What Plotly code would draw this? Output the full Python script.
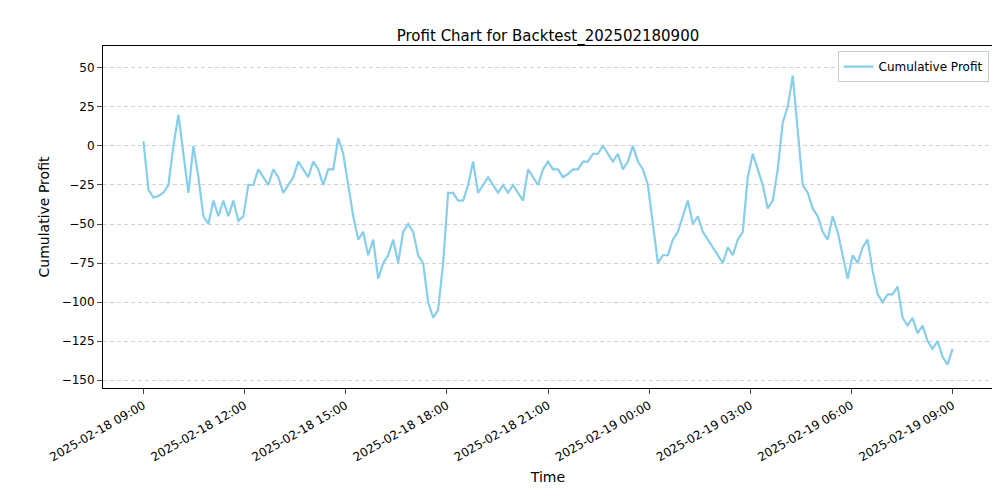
import plotly.graph_objects as go
import pandas as pd

profit = [3, -28, -33, -32, -30, -25, 0, 20, -5, -30, 0, -20, -45, -50,
          -35, -45, -35, -45, -35, -48, -45, -25, -25, -15, -20, -25, -15, -20, -30, -25,
          -20, -10, -15, -20, -10, -15, -25, -15, -15, 5, -5, -25, -45, -60, -55, -70,
          -60, -85, -75, -70, -60, -75, -55, -50, -55, -70, -75, -100, -110, -105, -75,
          -30, -30, -35, -35, -25, -10, -30, -25, -20, -25, -30, -25, -30, -25, -30, -35,
          -15, -20, -25, -15, -10, -15, -15, -20, -18, -15, -15, -10, -10, -5, -5, 0, -5,
          -10, -5, -15, -10, 0, -10, -15, -25, -50, -75, -70, -70, -60, -55, -45, -35,
          -50, -45, -55, -60, -65, -70, -75, -65, -70, -60, -55, -20, -5, -15, -25, -40,
          -35, -15, 15, 25, 45, 10, -25, -30, -40, -45, -55, -60, -45, -55, -70, -85,
          -70, -75, -65, -60, -80, -95, -100, -95, -95, -90, -110, -115, -110, -120,
          -115, -125, -130, -125, -135, -140, -130]
times = pd.date_range("2025-02-18 09:00", "2025-02-19 09:00", periods=len(profit))
tick_vals = pd.date_range("2025-02-18 09:00", "2025-02-19 09:00", freq="3h")
tick_text = [t.strftime("%Y-%m-%d %H:%M") for t in tick_vals]

fig = go.Figure(go.Scatter(x=times, y=profit, mode="lines", name="Cumulative Profit",
                           line=dict(color="#87CEEB", width=2.2)))
fig.update_layout(
    width=1000, height=500, plot_bgcolor="white", paper_bgcolor="white",
    font=dict(family="DejaVu Sans", size=12, color="black"),
    title=dict(text="Profit Chart for Backtest_202502180900", x=0.54, y=0.955, xanchor="center", font=dict(size=15)),
    margin=dict(l=95, r=15, t=38, b=120, autoexpand=False),
    showlegend=True,
    legend=dict(x=0.995, y=0.985, xanchor="right", yanchor="top", bordercolor="#cccccc",
                borderwidth=1, bgcolor="rgba(255,255,255,0.8)", font=dict(size=12)),
    xaxis=dict(title=dict(text="Time", standoff=8), tickvals=tick_vals, ticktext=tick_text, tickangle=-30,
               range=[pd.Timestamp("2025-02-18 07:48"), pd.Timestamp("2025-02-19 10:12")],
               showline=True, mirror=True, linecolor="black", ticks="outside", showgrid=False,
               automargin=False),
    yaxis=dict(title=dict(text="Cumulative Profit", standoff=8), range=[-155, 64], tickvals=list(range(-150, 51, 25)),
               showline=True, mirror=True, linecolor="black", ticks="outside",
               gridcolor="#d3d3d3", griddash="4px,3px", zeroline=False, automargin=False),
)
fig.write_html("out.html")
